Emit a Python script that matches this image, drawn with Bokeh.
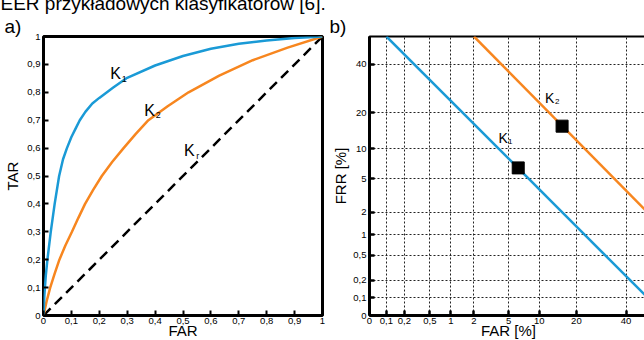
from statistics import NormalDist
from bokeh.plotting import figure
from bokeh.layouts import row
from bokeh.models import Range1d, FixedTicker, Label, Title, CustomJSTickFormatter
from bokeh.embed import file_html
from bokeh.resources import INLINE

FONT = "Liberation Sans"
BLUE = "#1a9ad6"
ORANGE = "#f7861f"

# ---------------- a) ROC data ----------------
roc_ticks = [0, 0.1, 0.2, 0.3, 0.4, 0.5, 0.6, 0.7, 0.8, 0.9, 1.0]
roc_tick_labels = ["0", "0,1", "0,2", "0,3", "0,4", "0,5", "0,6", "0,7", "0,8", "0,9", "1"]

k1_far = [0, 0.003, 0.008, 0.014, 0.026, 0.040, 0.056, 0.070, 0.084, 0.100, 0.115,
          0.130, 0.150, 0.175, 0.200, 0.250, 0.300, 0.400, 0.500, 0.600, 0.700,
          0.800, 0.900, 1.0]
k1_tar = [0, 0.07, 0.14, 0.20, 0.30, 0.40, 0.50, 0.56, 0.60, 0.64, 0.67,
          0.70, 0.73, 0.76, 0.78, 0.817, 0.852, 0.896, 0.93, 0.956, 0.974,
          0.986, 0.995, 1.0]

k2_far = [0, 0.011, 0.024, 0.040, 0.057, 0.078, 0.102, 0.125, 0.149, 0.178, 0.209,
          0.246, 0.287, 0.330, 0.376, 0.445, 0.520, 0.630, 0.750, 0.875, 1.0]
k2_tar = [0, 0.05, 0.10, 0.15, 0.20, 0.25, 0.30, 0.35, 0.40, 0.45, 0.50,
          0.55, 0.60, 0.65, 0.70, 0.75, 0.80, 0.86, 0.915, 0.96, 1.0]

kr_far = [0, 1]
kr_tar = [0, 1]

# ---------------- b) DET data (percent) ----------------
det_ticks = [0.1, 0.2, 0.5, 1, 2, 5, 10, 20, 40]
det_tick_labels = ["0,1", "0,2", "0,5", "1", "2", "5", "10", "20", "40"]
det_x_lim = [0.05, 50]
det_y_lim = [0.047, 53.3]

det_k1_far = [0.1, 50]
det_k1_frr = [53.3, 0.1]
det_k2_far = [2, 50]
det_k2_frr = [53.3, 2]

eer_far = [6.3, 15.6]
eer_frr = [6.5, 15.7]

nd = NormalDist()


def probit(vals):
    return [nd.inv_cdf(v / 100.0) for v in vals]


def lookup_formatter(tks, lbls):
    return CustomJSTickFormatter(
        args=dict(tks=list(tks), lbls=list(lbls)),
        code="""
for (let i = 0; i < tks.length; i++) {
  if (Math.abs(tick - tks[i]) < 1e-6) { return lbls[i]; }
}
return "";
""")


def style_axes(p, tick_w=2.0, ylab_standoff=3):
    for ax in (p.xaxis[0], p.yaxis[0]):
        ax.major_tick_in = 5
        ax.major_tick_out = 0
        ax.major_tick_line_width = tick_w
        ax.major_tick_line_color = "black"
        ax.minor_tick_line_color = None
        ax.axis_line_color = None
        ax.major_label_text_font = FONT
        ax.major_label_text_font_size = "9.5px"
        ax.major_label_text_color = "black"
        ax.axis_label_text_font = FONT
        ax.axis_label_text_font_size = "15px"
        ax.axis_label_text_font_style = "normal"
        ax.axis_label_text_color = "black"
    p.xaxis[0].major_label_standoff = 2
    p.xaxis[0].axis_label_standoff = -5
    p.yaxis[0].major_label_standoff = 3
    p.yaxis[0].axis_label_standoff = ylab_standoff


def lab(p, x, y, text, size):
    p.add_layout(Label(x=x, y=y, text=text, text_font=FONT, text_font_size=size,
                       text_color="black", text_align="center", text_baseline="middle"))


def ttl(text, size, offset):
    return Title(text=text, text_font=FONT, text_font_size=size, text_font_style="normal",
                 text_color="black", align="left", offset=offset, standoff=0)


# ---------------- left figure ----------------
pa = figure(frame_width=279, frame_height=279, output_backend="svg",
            toolbar_location=None, x_range=Range1d(0, 1), y_range=Range1d(0, 1),
            min_border_left=43, min_border_right=7, min_border_top=48,
            min_border_bottom=25, x_axis_label="FAR", y_axis_label="TAR")
pa.title = ttl("EER przykładowych klasyfikatorów [6].", "19px", -43)
pa.add_layout(ttl("a)", "19px", -39), "above")
pa.outline_line_color = "black"
pa.outline_line_width = 3
pa.outline_line_alpha = 1
pa.grid.visible = False
pa.xaxis.ticker = FixedTicker(ticks=roc_ticks)
pa.yaxis.ticker = FixedTicker(ticks=roc_ticks)
pa.xaxis.formatter = lookup_formatter(roc_ticks, roc_tick_labels)
pa.yaxis.formatter = lookup_formatter(roc_ticks, roc_tick_labels)
style_axes(pa, ylab_standoff=3)

pa.line(kr_far, kr_tar, line_color="black", line_width=2.5, line_dash="10 6")
pa.line(k2_far, k2_tar, line_color=ORANGE, line_width=2.5)
pa.line(k1_far, k1_tar, line_color=BLUE, line_width=2.5)

lab(pa, 0.258, 0.867, "K", "16px")
lab(pa, 0.289, 0.848, "1", "9px")
lab(pa, 0.380, 0.734, "K", "16px")
lab(pa, 0.411, 0.718, "2", "9px")
lab(pa, 0.523, 0.590, "K", "16px")
lab(pa, 0.553, 0.572, "r", "9px")

# ---------------- right figure ----------------
xs0, xs1 = probit(det_x_lim)
ys0, ys1 = probit(det_y_lim)
pb = figure(frame_width=278, frame_height=279, output_backend="svg",
            toolbar_location=None, x_range=Range1d(xs0, xs1), y_range=Range1d(ys0, ys1),
            min_border_left=36, min_border_right=1, min_border_top=48,
            min_border_bottom=25, x_axis_label="FAR [%]", y_axis_label="FRR [%]")
pb.title = ttl("b)", "19px", -40)
pb.outline_line_color = "black"
pb.outline_line_width = 2
pb.outline_line_alpha = 1

xt = probit(det_ticks)
yt = probit(det_ticks)
pb.xaxis.ticker = FixedTicker(ticks=[xs0] + xt)
pb.yaxis.ticker = FixedTicker(ticks=[ys0] + yt)
pb.xaxis.formatter = lookup_formatter([xs0] + xt, ["0"] + det_tick_labels)
pb.yaxis.formatter = lookup_formatter([ys0] + yt, ["0"] + det_tick_labels)
pb.xgrid.ticker = FixedTicker(ticks=xt)
pb.ygrid.ticker = FixedTicker(ticks=yt)
for g in (pb.xgrid[0], pb.ygrid[0]):
    g.grid_line_color = "#222222"
    g.grid_line_dash = "2 2"
    g.grid_line_width = 1
style_axes(pb, tick_w=2.5, ylab_standoff=1)
pb.xaxis.axis_line_color = "black"
pb.xaxis.axis_line_width = 3
pb.yaxis.axis_line_color = "black"
pb.yaxis.axis_line_width = 3

pb.line(probit(det_k1_far), probit(det_k1_frr), line_color=BLUE, line_width=2.5)
pb.line(probit(det_k2_far), probit(det_k2_frr), line_color=ORANGE, line_width=2.5)
pb.scatter(probit(eer_far), probit(eer_frr), marker="square", size=12,
           fill_color="black", line_color="black")

lab(pb, -1.157, -0.665, "K", "14px")
lab(pb, -1.069, -0.713, "2", "8px")
lab(pb, -1.707, -1.151, "K", "14px")
lab(pb, -1.624, -1.199, "1", "8px")

layout = row(pa, pb, styles={"margin-top": "-12px"})
open("out.html", "w").write(file_html(layout, INLINE))
